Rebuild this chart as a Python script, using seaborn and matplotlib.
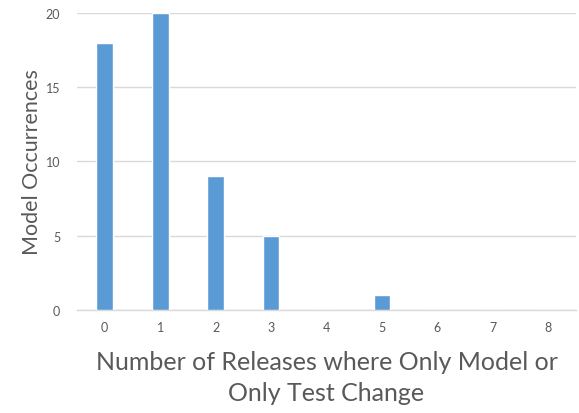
import matplotlib
matplotlib.use("Agg")
import matplotlib.pyplot as plt
import seaborn as sns
import pandas as pd

releases = ["0", "1", "2", "3", "4", "5", "6", "7", "8"]
occurrences = [18, 20, 9, 5, 0, 1, 0, 0, 0]
yticks = [0, 5, 10, 15, 20]

sns.set_style("white")
plt.rcParams['font.family'] = ['Lato', 'DejaVu Sans']

df = pd.DataFrame({"release": releases, "count": occurrences})

fig = plt.figure(figsize=(5.79, 4.14), dpi=100)
ax = fig.add_axes([0.133, 0.249, 0.862, 0.717])
sns.barplot(data=df, x="release", y="count", color="#5B9BD5", saturation=1,
            width=0.3, ax=ax, zorder=3)
ax.set_xlim(-0.5, 8.5)
ax.set_ylim(0, 20)
ax.set_yticks(yticks)
ax.yaxis.grid(True, color="#D9D9D9", linewidth=1, zorder=0)
ax.set_axisbelow(True)
for s in ["top", "right", "left"]:
    ax.spines[s].set_visible(False)
ax.spines["bottom"].set_color("#D9D9D9")
ax.spines["bottom"].set_linewidth(1)
ax.tick_params(axis="both", length=0, labelsize=9, colors="#595959", pad=8)
ax.tick_params(axis="y", pad=12)
ax.set_ylabel("Model Occurrences", fontsize=15.5, color="#595959", labelpad=3)
ax.set_xlabel("Number of Releases where Only Model or\nOnly Test Change", fontsize=18,
              color="#595959", labelpad=12, linespacing=1.45)
fig.savefig("out.png", dpi=100)
